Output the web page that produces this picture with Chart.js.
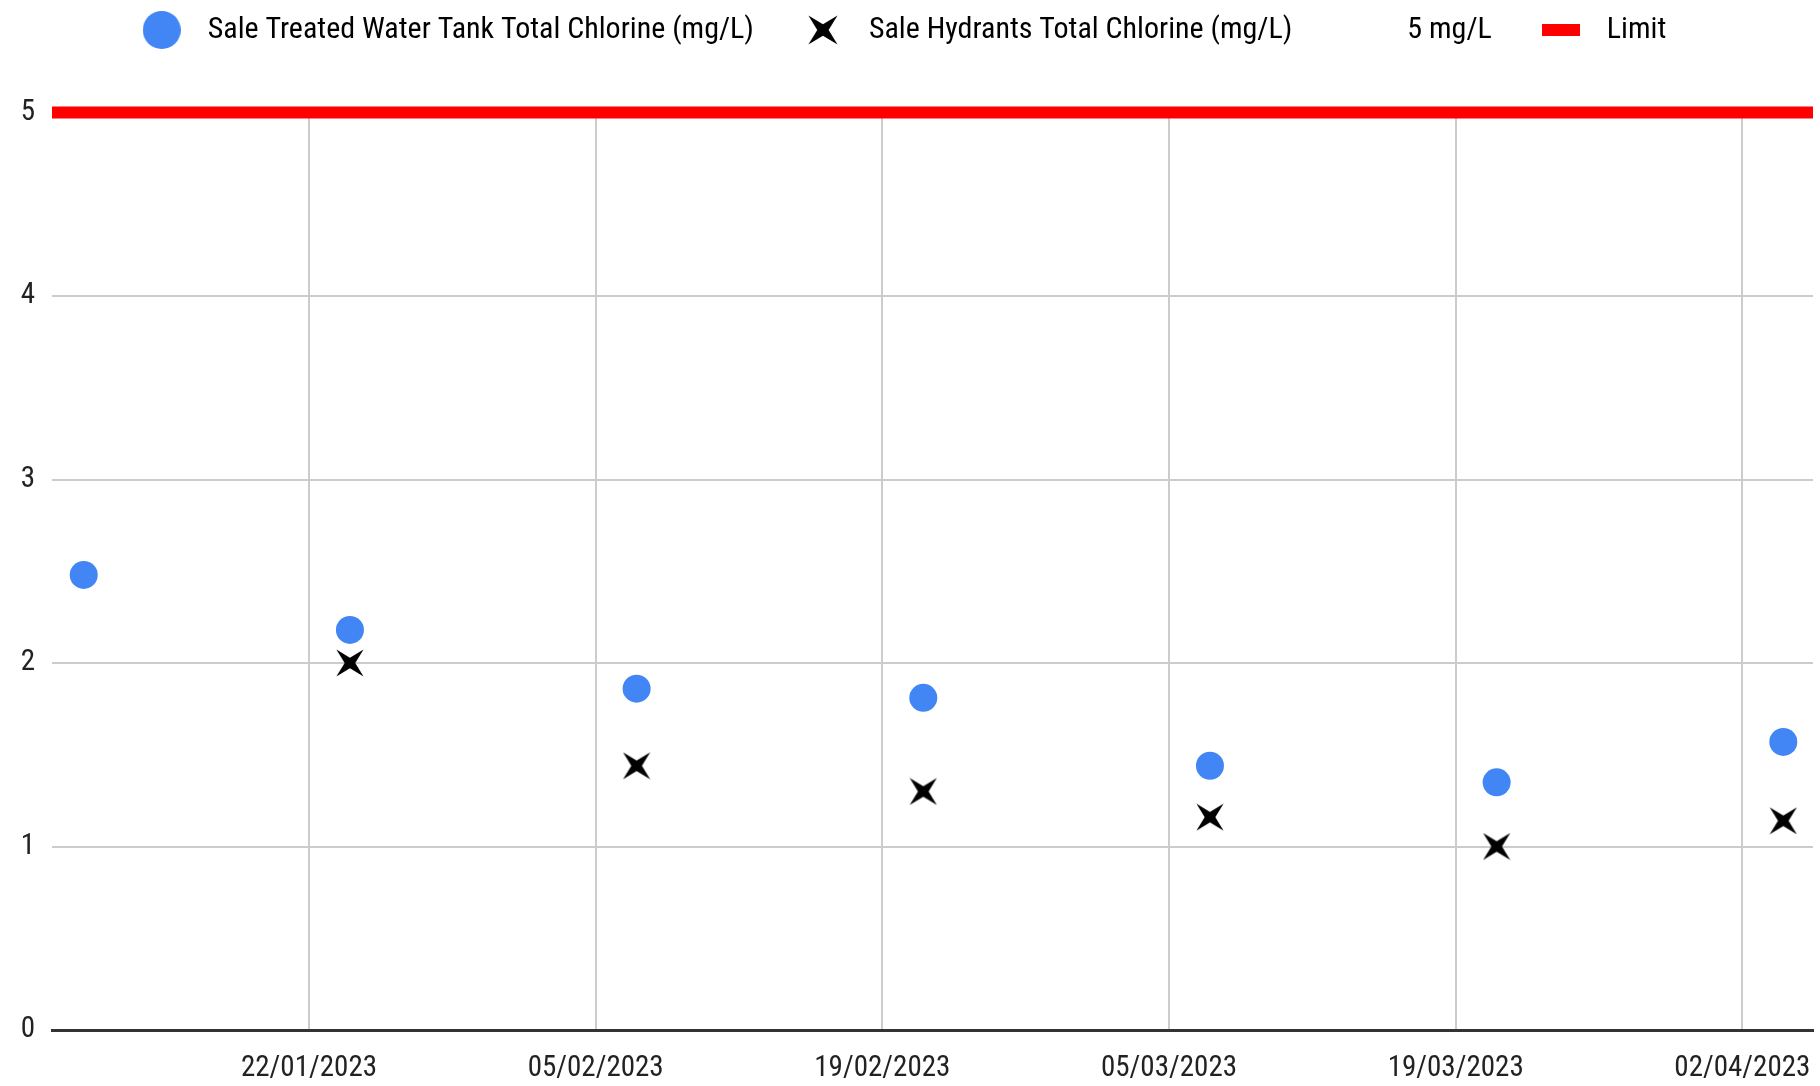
<!DOCTYPE html>
<html>
<head>
<meta charset="utf-8">
<script src="https://cdn.jsdelivr.net/npm/chart.js@4.4.1/dist/chart.umd.min.js"></script>
<style>
  html, body { margin: 0; padding: 0; background: #fff; }
  #wrap { width: 1820px; height: 1086px; position: relative; }
</style>
</head>
<body>
<div id="wrap"><canvas id="chlorine_chart"></canvas></div>
<script>
// วันที่เก็บตัวอย่าง
const sampleDates = ['11/01/2023', '24/01/2023', '07/02/2023', '21/02/2023', '07/03/2023', '21/03/2023', '04/04/2023'];
const tankChlorine = [2.48, 2.18, 1.86, 1.81, 1.44, 1.35, 1.57];
const hydrantChlorine = [null, 2.0, 1.44, 1.30, 1.16, 1.0, 1.14];
const tickDates = ['22/01/2023', '05/02/2023', '19/02/2023', '05/03/2023', '19/03/2023', '02/04/2023'];
const yTicks = [0, 1, 2, 3, 4, 5];
const limitValue = 5;
const limitText = '5 mg/L';

const FONT = '"Roboto Condensed", "DejaVu Sans Condensed", sans-serif';
const FONT_SIZE = 29;
const LEGEND_FONT_SIZE = 30;

function toDay(s) {
    const [d, m, y] = s.split('/').map(Number);
    return Date.UTC(y, m - 1, d) / 86400000;
}
function fmtDay(v) {
    const dt = new Date(v * 86400000);
    const p = n => String(n).padStart(2, '0');
    return p(dt.getUTCDate()) + '/' + p(dt.getUTCMonth() + 1) + '/' + dt.getUTCFullYear();
}

const xMin = toDay(sampleDates[0]) - 1.55;
const xMax = toDay(sampleDates[sampleDates.length - 1]) + 1.45;

// ตัวมาร์กเกอร์รูปดาว 4 แฉก
function makeStar(size) {
    const c = document.createElement('canvas');
    c.width = c.height = size;
    const g = c.getContext('2d');
    const h = size / 2;
    g.translate(h, h);
    g.beginPath();
    for (let i = 0; i < 8; i++) {
        const a = Math.PI / 4 + i * Math.PI / 4;
        const r = i % 2 === 0 ? h * Math.SQRT2 * 0.97 : size * 0.19;
        g.lineTo(r * Math.cos(a), r * Math.sin(a));
    }
    g.closePath();
    g.fillStyle = '#000';
    g.fill();
    return c;
}
function makeDot(size, color) {
    const c = document.createElement('canvas');
    c.width = c.height = size;
    const g = c.getContext('2d');
    g.beginPath();
    g.arc(size / 2, size / 2, size / 2, 0, Math.PI * 2);
    g.fillStyle = color;
    g.fill();
    return c;
}
function makeRect(w, h, color) {
    const c = document.createElement('canvas');
    c.width = w; c.height = h;
    const g = c.getContext('2d');
    g.fillStyle = color;
    g.fillRect(0, 0, w, h);
    return c;
}

const starPoint = makeStar(28);
const legendIcons = [makeDot(38, '#4285F4'), makeStar(30), makeRect(1, 1, 'rgba(0,0,0,0)'), makeRect(38, 12, '#ff0000')];
const legendTexts = ['Sale Treated Water Tank Total Chlorine (mg/L)', 'Sale Hydrants Total Chlorine (mg/L)', limitText, 'Limit'];

// เลื่อน legend ขึ้นไปที่ขอบบน และขยับซ้ายเล็กน้อย
const legendShift = {
    id: 'legendShift',
    afterLayout(chart) {
        const lg = chart.legend;
        const d = 30 - (lg.top + 38 + LEGEND_FONT_SIZE / 2);
        lg.top += d;
        lg.bottom += d;
        lg.left -= 8;
        lg.right -= 8;
    }
};

const ctx = document.getElementById('chlorine_chart').getContext('2d');

new Chart(ctx, {
    type: 'scatter',
    data: {
        datasets: [
            {
                label: legendTexts[0],
                data: sampleDates.map((d, i) => ({ x: toDay(d), y: tankChlorine[i] })),
                backgroundColor: '#4285F4',
                borderWidth: 0,
                pointRadius: 14,
                pointHoverRadius: 14
            },
            {
                label: legendTexts[1],
                data: sampleDates.map((d, i) => ({ x: toDay(d), y: hydrantChlorine[i] })).filter(p => p.y !== null),
                pointStyle: starPoint,
                pointRadius: 14
            },
            {
                label: 'Limit',
                type: 'line',
                data: [{ x: xMin, y: limitValue }, { x: xMax, y: limitValue }],
                borderColor: '#ff0000',
                borderWidth: 12,
                pointRadius: 0,
                clip: false
            }
        ]
    },
    options: {
        responsive: true,
        maintainAspectRatio: false,
        animation: false,
        layout: { autoPadding: false, padding: { top: 34.5, right: 7, left: 0, bottom: 0 } },
        plugins: {
            tooltip: { enabled: false },
            legend: {
                position: 'top',
                labels: {
                    usePointStyle: true,
                    pointStyleWidth: 62,
                    padding: 38,
                    color: '#222',
                    font: { family: FONT, size: LEGEND_FONT_SIZE },
                    generateLabels: () => legendTexts.map((t, i) => ({
                        text: t,
                        pointStyle: legendIcons[i],
                        fillStyle: 'transparent',
                        strokeStyle: 'transparent',
                        lineWidth: 0,
                        hidden: false,
                        datasetIndex: i
                    }))
                },
                onClick: () => {}
            }
        },
        scales: {
            x: {
                type: 'linear',
                min: xMin,
                max: xMax,
                afterBuildTicks: scale => {
                    scale.ticks = tickDates.map(d => ({ value: toDay(d) }));
                },
                afterFit: scale => {
                    scale.height = 56;
                    scale.paddingLeft = 0;
                    scale.paddingRight = 0;
                },
                ticks: {
                    callback: v => fmtDay(v),
                    autoSkip: false,
                    maxRotation: 0,
                    color: '#222',
                    padding: 21,
                    font: { family: FONT, size: FONT_SIZE }
                },
                grid: { color: '#cccccc', lineWidth: 2, drawTicks: false },
                border: { display: true, color: '#333333', width: 3 }
            },
            y: {
                min: 0,
                max: 5,
                afterBuildTicks: scale => {
                    scale.ticks = yTicks.map(v => ({ value: v }));
                },
                afterFit: scale => { scale.width = 52; },
                ticks: {
                    color: '#222',
                    padding: 17,
                    font: { family: FONT, size: FONT_SIZE }
                },
                grid: {
                    color: c => (c.tick && c.tick.value === 0 ? 'rgba(0,0,0,0)' : '#cccccc'),
                    lineWidth: 2,
                    drawTicks: false
                },
                border: { display: false }
            }
        }
    },
    plugins: [legendShift]
});
</script>
</body>
</html>
